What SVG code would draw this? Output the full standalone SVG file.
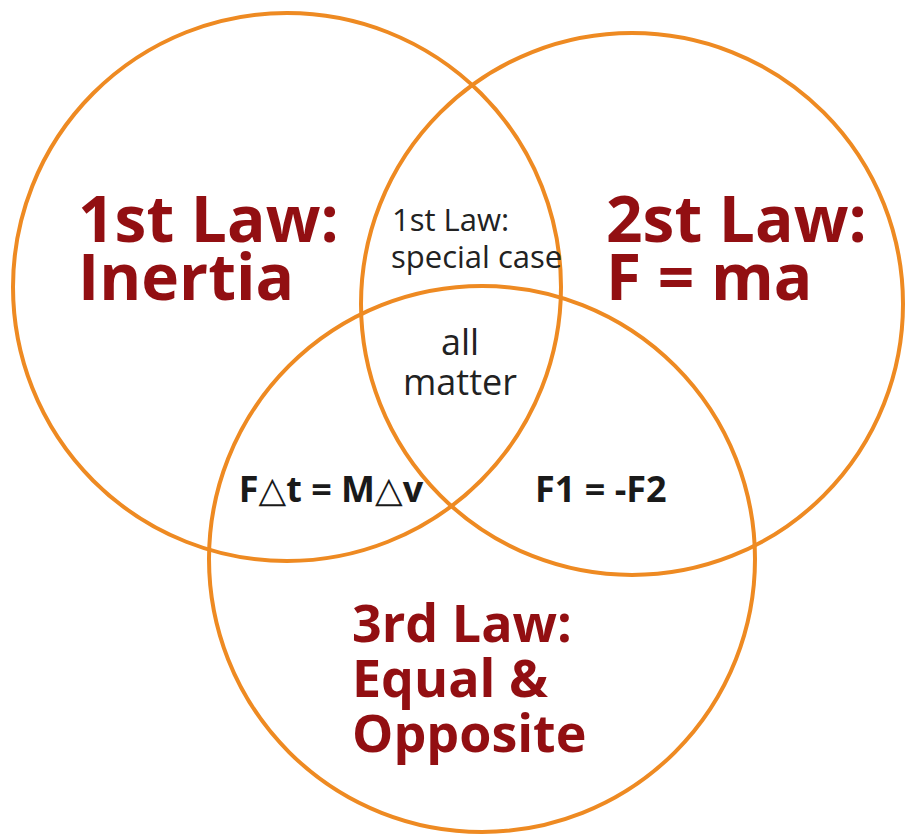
<svg xmlns="http://www.w3.org/2000/svg" width="906" height="834" viewBox="0 0 906 834">
<style>
.ring{fill:none;stroke:#EE8A22;stroke-width:4}
.big{font-family:"Open Sans","Noto Sans","Liberation Sans",sans-serif;font-weight:700;fill:#920F12}
.small{font-family:"Open Sans","Noto Sans","Liberation Sans",sans-serif;font-weight:400;fill:#222}
.eq{font-family:"Open Sans","Noto Sans","DejaVu Sans",sans-serif;font-weight:700;fill:#1a1a1a;font-size:36px}
</style>
<rect width="906" height="834" fill="#fff"/>
<g id="law1">
<circle class="ring" cx="287" cy="287" r="274"/>
<text class="big" font-size="64" x="78" y="242">1st Law:</text>
<text class="big" font-size="64" x="78" y="300">Inertia</text>
</g>
<g id="law2">
<circle class="ring" cx="632" cy="304" r="271"/>
<text class="big" font-size="64" x="606" y="242">2st Law:</text>
<text class="big" font-size="64" x="606" y="300">F = ma</text>
</g>
<g id="law3">
<circle class="ring" cx="482" cy="559" r="273"/>
<text class="big" font-size="52" x="352" y="642">3rd Law:</text>
<text class="big" font-size="52" x="352" y="697">Equal &amp;</text>
<text class="big" font-size="52" x="352" y="752">Opposite</text>
</g>
<g id="overlap12">
<text class="small" font-size="31" x="392" y="231">1st Law:</text>
<text class="small" font-size="31" x="391" y="268">special case</text>
</g>
<g id="overlap123">
<text class="small" font-size="36" x="460" y="355" text-anchor="middle">all</text>
<text class="small" font-size="36" x="460" y="395" text-anchor="middle">matter</text>
</g>
<g id="overlap13">
<text class="eq" x="331" y="502" text-anchor="middle">F△t = M△v</text>
</g>
<g id="overlap23">
<text class="eq" x="535" y="502">F1 = -F2</text>
</g>
<g id="connectors"></g>
</svg>
